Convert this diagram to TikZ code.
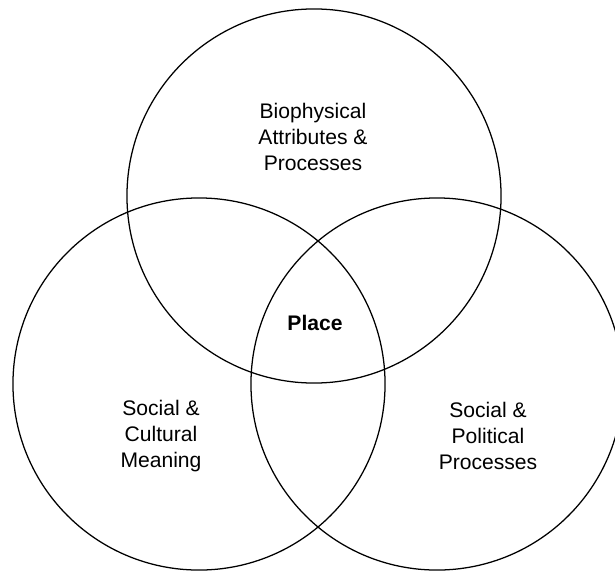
\documentclass[tikz,border=0pt]{standalone}
\usepackage{fontspec}
\setmainfont{Liberation Sans}
\usepackage{tikz}
\usetikzlibrary{positioning}

\begin{document}
\begin{tikzpicture}[x=0.025cm, y=-0.025cm,
        venn/.style={circle, draw=black, line width=0.9pt, inner sep=0pt, outer sep=0pt},
        label/.style={align=center, font=\fontsize{15}{18.5}\selectfont}
    ]
        \useasboundingbox (0,0) rectangle (615,571);
        \node[venn, minimum size=9.35cm] (bio) at (314,196) {};
        \node[venn, minimum size=9.3cm] (cult) at (199,384) {};
        \node[venn, minimum size=9.3cm] (pol) at (437,384) {};
        \node[label] (biotext) at (313,137) {Biophysical\\Attributes \&\\Processes};
        \node[label] (culttext) at (161,436) {Social \&\\Cultural\\Meaning};
        \node[label] (poltext) at (488,436) {Social \&\\Political\\Processes};
        \node[label, font=\fontsize{15}{18.5}\selectfont\bfseries] (place) at (315,323) {Place};
    \end{tikzpicture}
\end{document}
